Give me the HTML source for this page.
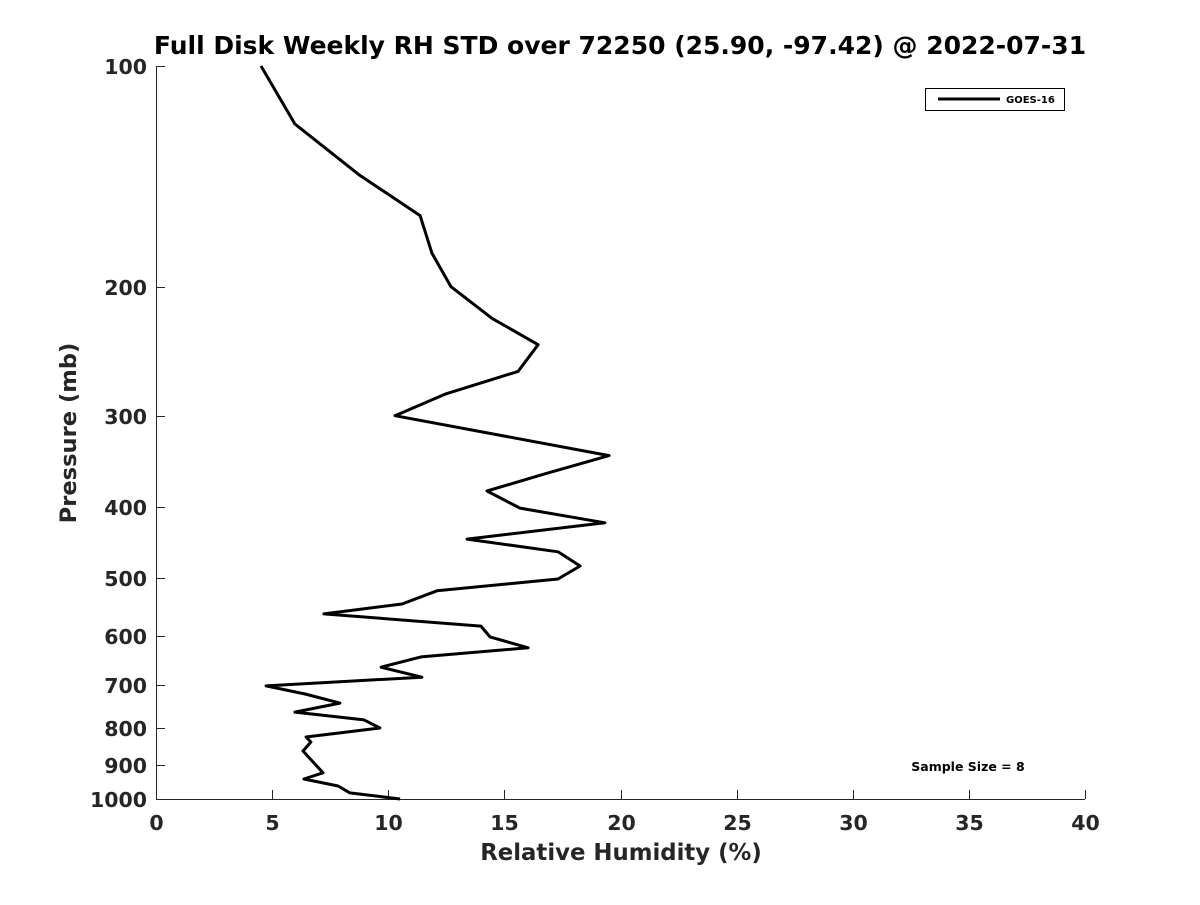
<!DOCTYPE html>
<html><head><meta charset="utf-8"><style>
body{margin:0;background:#fff;font-family:"Liberation Sans","DejaVu Sans",sans-serif}
svg text{font-family:"DejaVu Sans","Liberation Sans",sans-serif;font-weight:bold;fill:#262626}
</style></head><body>
<svg id="c" width="1200" height="900" xmlns="http://www.w3.org/2000/svg">
<text x="620" y="54" text-anchor="middle" font-size="25" style="fill:#000">Full Disk Weekly RH STD over 72250 (25.90, -97.42) @ 2022-07-31</text>
<g id="axes"></g>
<path id="line" fill="none" stroke="#000" stroke-width="3" stroke-linejoin="round"/>
<g>
<rect x="925.5" y="88.5" width="139" height="22" fill="#fff" stroke="#000" stroke-width="1"/>
<line x1="938" y1="99" x2="1000" y2="99" stroke="#000" stroke-width="3"/>
<text x="1006" y="103" font-size="10" style="fill:#000">GOES-16</text>
</g>
<text x="968" y="771" text-anchor="middle" font-size="12.5" style="fill:#000">Sample Size = 8</text>
<text x="621" y="860" text-anchor="middle" font-size="22.8">Relative Humidity (%)</text>
<text transform="translate(76,433) rotate(-90)" text-anchor="middle" font-size="22.6">Pressure (mb)</text>
</svg>
<script>
const pressures=[100,120,141,160,180,200,221,240,261,280,300,340,360,380,401,420,442,460,481,501,520,542,559,581,601,622,640,661,682,701,719,740,761,780,800,823,836,860,921,939,960,981,1000];
const rhStd=[4.52,5.98,8.78,11.37,11.88,12.70,14.47,16.45,15.59,12.49,10.29,19.51,16.75,14.25,15.67,19.33,13.39,17.31,18.26,17.31,12.10,10.59,7.23,13.99,14.38,16.02,11.41,9.69,11.45,4.74,6.42,7.92,5.98,8.96,9.64,6.46,6.67,6.33,7.19,6.37,7.84,8.35,10.51];
const xTicks=[0,5,10,15,20,25,30,35,40];
const yTicks=[100,200,300,400,500,600,700,800,900,1000];
const X0=156,X1=1085,Y0=66,Y1=799;
const xs=v=>X0+(v-0)/40*(X1-X0);
const ys=p=>Y0+Math.log10(p/100)*(Y1-Y0);
const ns="http://www.w3.org/2000/svg";
const ax=document.getElementById('axes');
function mk(t,a){const e=document.createElementNS(ns,t);for(const k in a)e.setAttribute(k,a[k]);ax.appendChild(e);return e;}
let l=mk('line',{x1:X0,y1:Y1+.5,x2:X1,y2:Y1+.5,stroke:'#262626','stroke-width':1});


l=mk('line',{x1:X0+.5,y1:Y0,x2:X0+.5,y2:Y1,stroke:'#262626','stroke-width':1});


xTicks.forEach(v=>{const x=Math.round(xs(v))+.5;
mk('line',{x1:x,y1:Y1,x2:x,y2:Y1-9,stroke:'#262626'});
const t=mk('text',{x:x,y:830,'text-anchor':'middle','font-size':20.5});t.textContent=v;

});
yTicks.forEach(p=>{const y=Math.round(ys(p))+.5;
mk('line',{x1:X0,y1:y,x2:X0+9,y2:y,stroke:'#262626'});
const t=mk('text',{x:147,y:y+7.5,'text-anchor':'end','font-size':20.5});t.textContent=p;

});
document.getElementById('line').setAttribute('d',rhStd.map((v,i)=>(i?'L':'M')+xs(v).toFixed(1)+','+ys(pressures[i]).toFixed(1)).join(''));
</script>
</body></html>
